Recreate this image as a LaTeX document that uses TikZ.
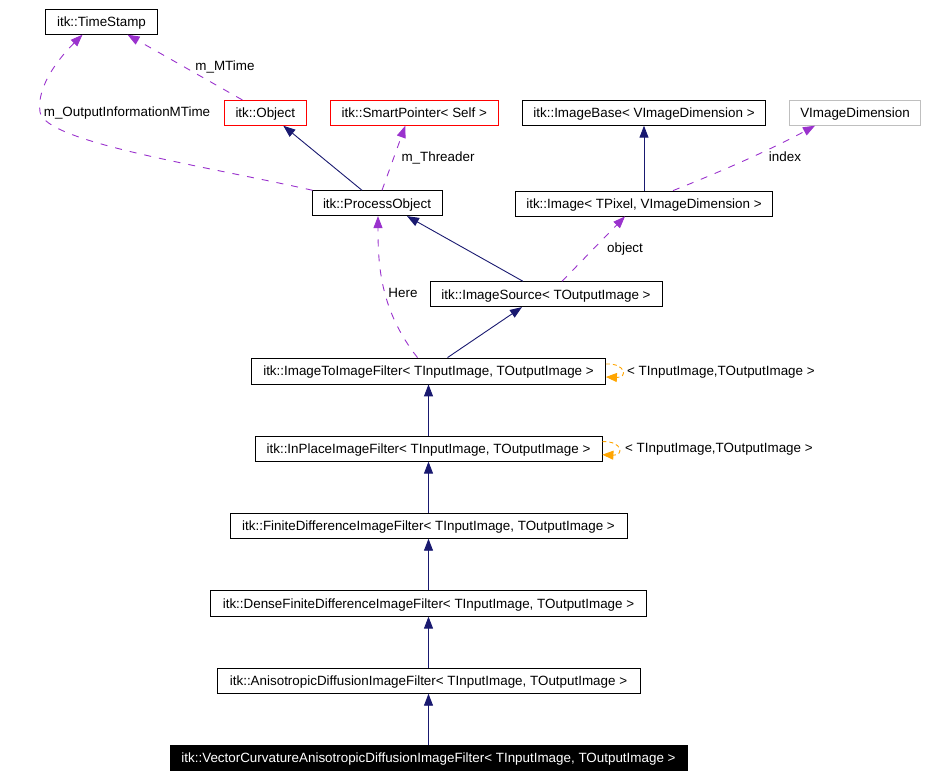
\documentclass[tikz,border=0pt]{standalone}
\usepackage{fontspec}
\setmainfont{Liberation Sans}
\usetikzlibrary{arrows.meta}
\definecolor{navy}{HTML}{191970}
\definecolor{purp}{HTML}{9A32CD}
\definecolor{orng}{HTML}{FFA500}
\definecolor{grayb}{HTML}{BFBFBF}
\begin{document}
\begin{tikzpicture}[x=1pt,y=1pt,
  box/.style={draw=black, line width=0.8pt, minimum height=25pt, inner sep=0pt,
    text height=9.7pt, text depth=0pt,
    font=\fontsize{13.4}{16}\selectfont, text=black},
  redbox/.style={box, draw=red},
  graybox/.style={box, draw=grayb},
  mainbox/.style={box, fill=black, text=white},
  lbl/.style={font=\fontsize{13.4}{16}\selectfont, inner sep=0pt, text height=9.7pt, text depth=0pt},
  inh/.style={draw=navy, line width=0.9pt, -{Triangle[length=12pt,width=9pt]}},
  use/.style={draw=purp, line width=0.9pt, dash pattern=on 7pt off 8pt,
    -{Triangle[length=12pt,width=9pt]}},
  tmpl/.style={draw=orng, line width=0.9pt, dash pattern=on 4pt off 3pt,
    -{Triangle[length=11pt,width=9pt]}}]
\useasboundingbox (0,0) rectangle (927,-778);

% nodes
\node[box, minimum width=111.5pt] (ts) at (101.5,-21.8) {itk::TimeStamp};
\node[redbox, minimum width=82pt] (obj) at (265.3,-112.8) {itk::Object};
\node[redbox, minimum width=168pt] (sp) at (414.3,-112.8) {itk::SmartPointer< Self >};
\node[box, minimum width=242.7pt] (ib) at (644,-112.8) {itk::ImageBase< VImageDimension >};
\node[graybox, minimum width=131.3pt] (vd) at (855,-112.8) {VImageDimension};
\node[box, minimum width=130pt] (po) at (377,-203.2) {itk::ProcessObject};
\node[box, minimum width=256.7pt] (img) at (644,-203.5) {itk::Image< TPixel, VImageDimension >};
\node[box, minimum width=232pt] (isrc) at (546,-294.2) {itk::ImageSource< TOutputImage >};
\node[box, minimum width=354pt, minimum height=26pt] (i2i) at (428.5,-371) {itk::ImageToImageFilter< TInputImage, TOutputImage >};
\node[box, minimum width=347pt] (inp) at (428.5,-448.7) {itk::InPlaceImageFilter< TInputImage, TOutputImage >};
\node[box, minimum width=397pt] (fin) at (428.5,-525.8) {itk::FiniteDifferenceImageFilter< TInputImage, TOutputImage >};
\node[box, minimum width=435.7pt, minimum height=26pt] (dense) at (428.5,-603.2) {itk::DenseFiniteDifferenceImageFilter< TInputImage, TOutputImage >};
\node[box, minimum width=423pt] (aniso) at (428.5,-680.8) {itk::AnisotropicDiffusionImageFilter< TInputImage, TOutputImage >};
\node[mainbox, minimum width=517pt] (vec) at (428.5,-758) {itk::VectorCurvatureAnisotropicDiffusionImageFilter< TInputImage, TOutputImage >};

% labels
\node[lbl] (lmt) at (225,-66) {m\_MTime};
\node[lbl] (loim) at (127,-112) {m\_OutputInformationMTime};
\node[lbl] (lthr) at (438,-157) {m\_Threader};
\node[lbl] (lidx) at (785,-157) {index};
\node[lbl] (lobj) at (625,-248) {object};
\node[lbl] (lhere) at (403,-293) {Here};
\node[lbl, anchor=west] (lt1) at (627,-370.5) {< TInputImage,TOutputImage >};
\node[lbl, anchor=west] (lt2) at (625,-448) {< TInputImage,TOutputImage >};

% connectors
\draw[use] ([xshift=-23pt]obj.north) -- ([xshift=26pt]ts.south);
\draw[use] ([xshift=1pt]po.north west) .. controls (200,-165) and (45,-142) .. (40,-112)
  .. controls (36,-85) and (62,-55) .. ([xshift=-19pt]ts.south);
\draw[inh] ([xshift=-15pt]po.north) -- ([xshift=18pt]obj.south);
\draw[use] ([xshift=5pt]po.north) -- ([xshift=-9pt]sp.south);
\draw[inh] (img.north) -- (ib.south);
\draw[use] ([xshift=29pt]img.north) .. controls (720,-172) and (770,-150) .. ([xshift=-40pt]vd.south);
\draw[inh] ([xshift=-23pt]isrc.north) -- ([xshift=30pt]po.south);
\draw[use] ([xshift=16pt]isrc.north) -- ([xshift=-19pt]img.south);
\draw[use] ([xshift=-11pt]i2i.north) .. controls (380,-310) and (378,-265) .. ([xshift=1pt]po.south);
\draw[inh] ([xshift=19pt]i2i.north) -- ([xshift=-24pt]isrc.south);
\draw[tmpl] ([yshift=7pt]i2i.east) .. controls +(20,1) and +(22,-1) .. ([yshift=-6pt]i2i.east);
\draw[inh] (inp) -- (i2i);
\draw[tmpl] ([yshift=7pt]inp.east) .. controls +(20,1) and +(22,-1) .. ([yshift=-6pt]inp.east);
\draw[inh] (fin) -- (inp);
\draw[inh] (dense) -- (fin);
\draw[inh] (aniso) -- (dense);
\draw[inh] (vec) -- (aniso);
\end{tikzpicture}
\end{document}
